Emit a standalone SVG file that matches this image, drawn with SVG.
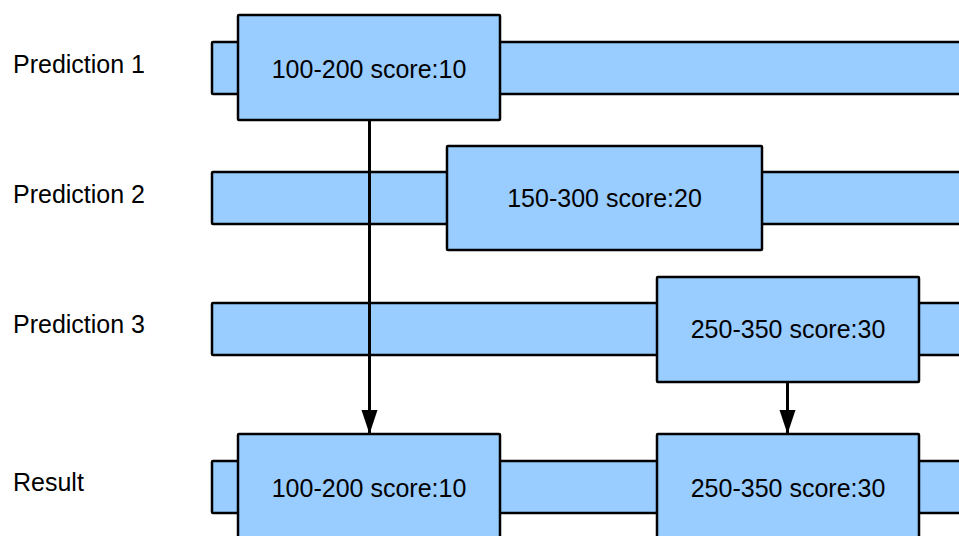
<svg xmlns="http://www.w3.org/2000/svg" width="959" height="536" viewBox="0 0 959 536">
<defs>
<style>
.bar,.box{fill:#99ccff;stroke:#000;stroke-width:2.5}
.t{font-family:"Liberation Sans",Arial,sans-serif;font-size:25px;fill:#000}
.c{text-anchor:middle}
.conn{stroke:#000;stroke-width:3;fill:none}
</style>
<marker id="ah" markerUnits="userSpaceOnUse" markerWidth="25" markerHeight="17" refX="24" refY="8" orient="auto">
<path d="M0,0 L24,8 L0,16 Z" fill="#000"/>
</marker>
</defs>
<rect width="959" height="536" fill="#fff"/>
<g id="labels">
<text class="t" x="13" y="73">Prediction 1</text>
<text class="t" x="13" y="203">Prediction 2</text>
<text class="t" x="13" y="333">Prediction 3</text>
<text class="t" x="13" y="491">Result</text>
</g>
<g id="bar1"><rect class="bar" x="212" y="42" width="760" height="52" rx="1"/></g>
<g id="bar2"><rect class="bar" x="212" y="172" width="760" height="52" rx="1"/></g>
<g id="bar3"><rect class="bar" x="212" y="303" width="760" height="52" rx="1"/></g>
<g id="bar4"><rect class="bar" x="212" y="461" width="760" height="52" rx="1"/></g>
<g id="p1"><rect class="box" x="238" y="15" width="262" height="105" rx="1"/><text class="t c" x="369" y="77.5">100-200 score:10</text></g>
<g id="p2"><rect class="box" x="447" y="146" width="315" height="104" rx="1"/><text class="t c" x="604.5" y="207">150-300 score:20</text></g>
<g id="p3"><rect class="box" x="657" y="277" width="262" height="105" rx="1"/><text class="t c" x="788" y="338">250-350 score:30</text></g>
<g id="r1"><rect class="box" x="238" y="434" width="262" height="110" rx="1"/><text class="t c" x="369" y="497">100-200 score:10</text></g>
<g id="r2"><rect class="box" x="657" y="434" width="262" height="110" rx="1"/><text class="t c" x="788" y="497">250-350 score:30</text></g>
<g id="connectors">
<line class="conn" x1="369.5" y1="121" x2="369.5" y2="434" marker-end="url(#ah)"/>
<line class="conn" x1="787.5" y1="383" x2="787.5" y2="434" marker-end="url(#ah)"/>
</g>
</svg>
